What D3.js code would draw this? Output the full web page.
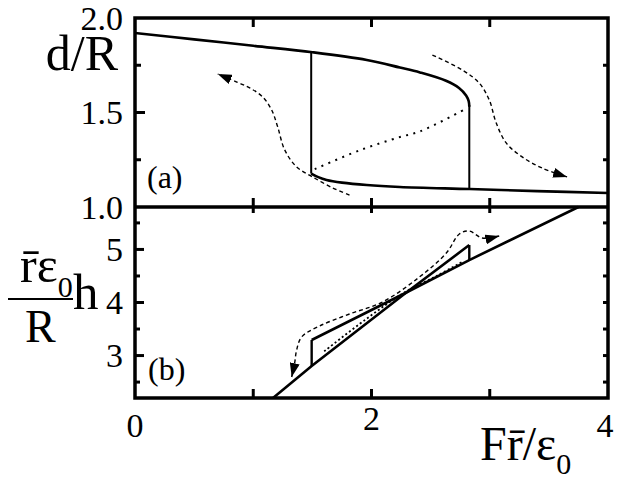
<!DOCTYPE html>
<html><head><meta charset="utf-8">
<script src="https://cdn.jsdelivr.net/npm/d3@7"></script>
<style>
html,body{margin:0;padding:0;background:#fff;}
svg{display:block;}
</style></head>
<body><svg id="c" width="619" height="481"></svg>
<script>
// ---- data ----
const xTickMajor = [1, 2, 3];
const xTickLabels = [0, 2, 4];
const topYLabels = ["1.0", "1.5", "2.0"];
const topYTicks = [1.25, 1.5, 1.75];
const botYLabels = [3, 4, 5];
const botYTicks = [2.5, 3, 3.5, 4, 4.5, 5, 5.5];

// panel (a): d/R vs F r/eps0
const upperBranch = [[0,1.921],[0.5,1.887],[1.0,1.853],[1.5,1.819],[1.96,1.778],[2.24,1.738],[2.41,1.712],[2.63,1.668],[2.74,1.630],[2.80,1.59],[2.822,1.56],[2.827,1.53]];
const lowerBranch = [[1.49,1.177],[1.55,1.158],[1.62,1.143],[1.75,1.129],[1.96,1.116],[2.24,1.106],[2.83,1.095],[3.4,1.084],[4.0,1.074]];
const unstableA = [[1.52,1.20],[1.9,1.30],[2.24,1.37],[2.41,1.40],[2.80,1.52]];
const jumpsA = [[1.49,1.819,1.177],[2.827,1.54,1.095]];
const arrowA1 = [[1.814,1.063],[1.671,1.101],[1.502,1.159],[1.367,1.212],[1.266,1.302],[1.207,1.423],[1.156,1.513],[1.080,1.582],[0.970,1.630],[0.861,1.661],[0.700,1.704]];
const arrowA2 = [[2.515,1.804],[2.768,1.725],[2.911,1.656],[2.996,1.566],[3.055,1.444],[3.139,1.339],[3.274,1.265],[3.443,1.206],[3.654,1.159]];

// panel (b): (r eps0 / R) h vs F r/eps0
const steepBranch = [[1.167,2.2],[1.494,2.803],[2.278,4.16],[2.827,5.083]];
const shallowBranch = [[1.494,3.293],[2.278,4.17],[2.827,4.80],[3.75,5.8]];
const unstableB = [[1.60,3.08],[1.95,3.68],[2.278,4.19],[2.55,4.50],[2.77,4.77]];
const jumpsB = [[1.494,2.803,3.293],[2.827,5.083,4.80]];
const arrowB = [[1.325,2.596],[1.350,2.860],[1.367,3.105],[1.409,3.350],[1.561,3.557],[1.814,3.783],[2.093,4.009],[2.405,4.480],[2.633,4.933],[2.743,5.291],[2.827,5.347],[2.937,5.215],[3.080,5.253]];

// ---- drawing ----
const FONT = '"Liberation Serif"';
const svg = d3.select("#c");
const L = 135, R = 608, T = 18, M = 207, B = 398;
const x = d3.scaleLinear().domain([0,4]).range([L,R]);
const yA = d3.scaleLinear().domain([1,2]).range([M,T]);
const yB = d3.scaleLinear().domain([2.2,5.8]).range([B,M]);

const defs = svg.append("defs");
defs.append("marker").attr("id","ah").attr("viewBox","0 0 14 10").attr("refX",14).attr("refY",5)
  .attr("markerWidth",14).attr("markerHeight",10).attr("markerUnits","userSpaceOnUse")
  .attr("orient","auto-start-reverse")
  .append("path").attr("d","M0,0 L14,5 L0,10 Z").attr("fill","#000");

const lineB = d3.line().x(d=>x(d[0])).y(d=>yB(d[1]));
const smoothA = d3.line().x(d=>x(d[0])).y(d=>yA(d[1])).curve(d3.curveCatmullRom);
const smoothB = d3.line().x(d=>x(d[0])).y(d=>yB(d[1])).curve(d3.curveCatmullRom);

// panel a curves
svg.append("path").attr("d",smoothA(upperBranch)).attr("fill","none").attr("stroke","#000").attr("stroke-width",2.6);
svg.append("path").attr("d",smoothA(lowerBranch)).attr("fill","none").attr("stroke","#000").attr("stroke-width",2.6);
svg.append("path").attr("d",smoothA(unstableA)).attr("fill","none").attr("stroke","#000").attr("stroke-width",2).attr("stroke-dasharray","2,5.5");
jumpsA.forEach(j=>svg.append("line").attr("x1",x(j[0])).attr("x2",x(j[0])).attr("y1",yA(j[1])).attr("y2",yA(j[2])).attr("stroke","#000").attr("stroke-width",2));
svg.append("path").attr("d",smoothA(arrowA1)).attr("fill","none").attr("stroke","#000").attr("stroke-width",1.4).attr("stroke-dasharray","4,3").attr("marker-end","url(#ah)");
svg.append("path").attr("d",smoothA(arrowA2)).attr("fill","none").attr("stroke","#000").attr("stroke-width",1.4).attr("stroke-dasharray","4,3").attr("marker-end","url(#ah)");

// panel b curves
const gB = svg.append("g");
gB.append("path").attr("d",lineB(steepBranch)).attr("fill","none").attr("stroke","#000").attr("stroke-width",2.6);
gB.append("path").attr("d",lineB(shallowBranch)).attr("fill","none").attr("stroke","#000").attr("stroke-width",2.6);
gB.append("path").attr("d",smoothB(unstableB)).attr("fill","none").attr("stroke","#000").attr("stroke-width",1.8).attr("stroke-dasharray","2,2.5");
jumpsB.forEach(j=>gB.append("line").attr("x1",x(j[0])).attr("x2",x(j[0])).attr("y1",yB(j[1])).attr("y2",yB(j[2])).attr("stroke","#000").attr("stroke-width",2.4));
gB.append("path").attr("d",smoothB(arrowB)).attr("fill","none").attr("stroke","#000").attr("stroke-width",1.4).attr("stroke-dasharray","4,3").attr("marker-end","url(#ah)").attr("marker-start","url(#ah)");

// frame
svg.append("rect").attr("x",L).attr("y",T).attr("width",R-L).attr("height",B-T).attr("fill","none").attr("stroke","#000").attr("stroke-width",3.5);
svg.append("line").attr("x1",L).attr("x2",R).attr("y1",M).attr("y2",M).attr("stroke","#000").attr("stroke-width",3.5);

// ticks
const tk = (x1,y1,x2,y2,w)=>svg.append("line").attr("x1",x1).attr("y1",y1).attr("x2",x2).attr("y2",y2).attr("stroke","#000").attr("stroke-width",w||3);
xTickMajor.forEach(v=>{
  const px = x(v);
  tk(px,T,px,T+9); tk(px,M-9,px,M+6); tk(px,B-9,px,B);
});
topYTicks.forEach(v=>{ const py=yA(v); const len = v===1.5?10:6; tk(L,py,L+len,py); tk(R-5,py,R,py); });
botYTicks.forEach(v=>{ const py=yB(v); const len = Number.isInteger(v)?9:5; tk(L,py,L+len,py); tk(R-5,py,R,py); });

const txt = (px,py,size,s,anchor)=>svg.append("text").attr("x",px).attr("y",py).style("font-family",FONT)
  .attr("font-size",size).attr("text-anchor",anchor||"start").text(s);

// tick labels
const fs = 34;
topYLabels.forEach(s=>txt(123,yA(+s)+11.5,fs,s,"end"));
botYLabels.forEach(s=>txt(123,yB(s)+11.5,fs,String(s),"end"));
const xlY = {0:437,2:430,4:437};
const xlX = {0:x(0),2:x(2),4:605};
xTickLabels.forEach(v=>txt(xlX[v],xlY[v],fs,String(v),"middle"));

// panel labels
txt(147,188,32,"(a)");
txt(148,380,32,"(b)");

// axis titles
txt(118,70,50,"d/R","end");
const xt = svg.append("text").attr("x",480).attr("y",460).style("font-family",FONT).attr("font-size",48);
xt.append("tspan").text("Fr\u0304/\u03b5");
xt.append("tspan").attr("font-size",30).attr("dy",14).text("0");

const yt = svg.append("text").attr("x",20).attr("y",282).style("font-family",FONT).attr("font-size",50);
yt.append("tspan").text("r\u0304\u03b5");
yt.append("tspan").attr("font-size",30).attr("dy",15).text("0");
txt(73,309,51,"h");
svg.append("line").attr("x1",8).attr("x2",73).attr("y1",299).attr("y2",299).attr("stroke","#000").attr("stroke-width",2.2);
txt(25,342,46,"R");
</script></body></html>
